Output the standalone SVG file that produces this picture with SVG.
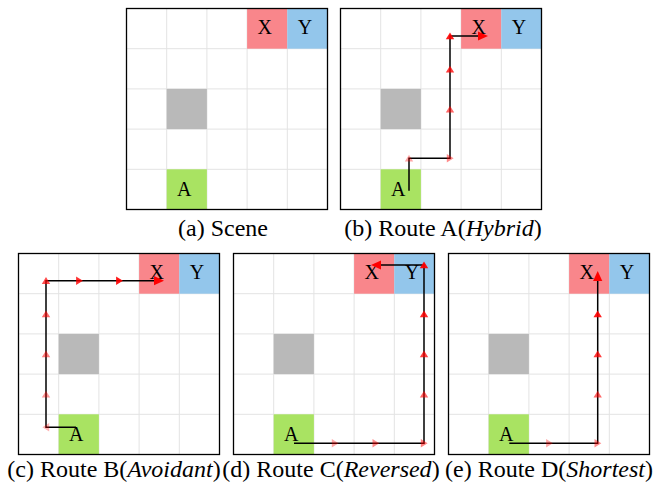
<svg xmlns="http://www.w3.org/2000/svg" width="660" height="484" viewBox="0 0 660 484">
<style>
.gl{stroke:#e3e3e3;stroke-width:1;fill:none}
.frame{fill:none;stroke:#000;stroke-width:1.3}
.cx{fill:#f9868b}.cy{fill:#93c6eb}.ca{fill:#a9e362}.co{fill:#b9b9b9}
.lbl{font-family:"Liberation Serif","Times New Roman",serif;font-size:20px;fill:#000;text-anchor:middle}
.cap{font-family:"Liberation Serif","Times New Roman",serif;font-size:24px;fill:#000;text-anchor:middle}
.route{fill:none;stroke:#000;stroke-width:1.5}
.tri{fill:#ff0000}
</style>
<defs>
<g id="grid">
<rect x="0" y="0" width="201" height="201" fill="#fff"/>
<path class="gl" d="M40.2,0V201M80.4,0V201M120.6,0V201M160.8,0V201M0,40.2H201M0,80.4H201M0,120.6H201M0,160.8H201"/>
</g>
<path id="tri" d="M0,-3.6L4.2,3.2L-4.2,3.2Z"/>
<path id="head" d="M0,0L-10,-4.6L-10,4.6Z"/>
<g id="cells">
<g id="cellX"><rect class="cx" x="120.6" y="0" width="40.2" height="40.2"/><text class="lbl" x="138.2" y="25.5">X</text></g>
<g id="cellY"><rect class="cy" x="160.8" y="0" width="40.2" height="40.2"/><text class="lbl" x="178.4" y="25.5">Y</text></g>
<g id="cellO"><rect class="co" x="40.2" y="80.4" width="40.2" height="40.2"/></g>
<g id="cellA"><rect class="ca" x="40.2" y="160.8" width="40.2" height="40.2"/><text class="lbl" x="57.8" y="187.5">A</text></g>
<rect class="frame" x="0" y="0" width="201" height="201"/>
</g>
</defs>

<g id="panel-a" transform="translate(126.5,8.5)">
<use href="#grid"/>
<use href="#cells"/>
</g>
<g id="panel-b" transform="translate(340.5,8.5)">
<use href="#grid"/>
<use href="#cells"/>
</g>
<g id="panel-c" transform="translate(18.5,253.5)">
<use href="#grid"/>
<use href="#cells"/>
</g>
<g id="panel-d" transform="translate(233.5,253.5)">
<use href="#grid"/>
<use href="#cells"/>
</g>
<g id="panel-e" transform="translate(448.5,253.5)">
<use href="#grid"/>
<use href="#cells"/>
</g>

<g id="connectors">
<g id="route-b">
<polyline class="route" points="409,190.7 409,158.3 450,158.3 450,36 484,36"/>
<use href="#tri" class="tri" fill-opacity="0.35" transform="translate(409,158.3)"/>
<use href="#tri" class="tri" fill-opacity="0.45" transform="translate(450,158.3) rotate(90)"/>
<use href="#tri" class="tri" fill-opacity="0.6" transform="translate(450,109.3)"/>
<use href="#tri" class="tri" fill-opacity="0.78" transform="translate(450,69.3)"/>
<use href="#tri" class="tri" fill-opacity="0.9" transform="translate(450,36)"/>
<use href="#head" class="tri" transform="translate(488,36)"/>
</g>
<g id="route-c">
<polyline class="route" points="76,427.3 46,427.3 46,280.7 160,280.7"/>
<use href="#tri" class="tri" fill-opacity="0.3" transform="translate(46,427.3) rotate(-90)"/>
<use href="#tri" class="tri" fill-opacity="0.4" transform="translate(46,394.3)"/>
<use href="#tri" class="tri" fill-opacity="0.5" transform="translate(46,354)"/>
<use href="#tri" class="tri" fill-opacity="0.6" transform="translate(46,314)"/>
<use href="#tri" class="tri" fill-opacity="0.7" transform="translate(46,280.7)"/>
<use href="#tri" class="tri" fill-opacity="0.82" transform="translate(79.3,280.7) rotate(90)"/>
<use href="#tri" class="tri" fill-opacity="0.92" transform="translate(119.3,280.7) rotate(90)"/>
<use href="#head" class="tri" transform="translate(164,280.7)"/>
</g>
<g id="route-d">
<polyline class="route" points="294,443.3 424,443.3 424,265 375,265"/>
<use href="#tri" class="tri" fill-opacity="0.35" transform="translate(335,443.3) rotate(90)"/>
<use href="#tri" class="tri" fill-opacity="0.45" transform="translate(375.7,443.3) rotate(90)"/>
<use href="#tri" class="tri" fill-opacity="0.5" transform="translate(424,443.3) rotate(90)"/>
<use href="#tri" class="tri" fill-opacity="0.6" transform="translate(424,394.3)"/>
<use href="#tri" class="tri" fill-opacity="0.75" transform="translate(424,354)"/>
<use href="#tri" class="tri" fill-opacity="0.85" transform="translate(424,314)"/>
<use href="#tri" class="tri" fill-opacity="0.95" transform="translate(424,265)"/>
<use href="#head" class="tri" transform="translate(371,265) rotate(180)"/>
</g>
<g id="route-e">
<polyline class="route" points="509.3,443.3 597.7,443.3 597.7,275"/>
<use href="#tri" class="tri" fill-opacity="0.35" transform="translate(549.3,443.3) rotate(90)"/>
<use href="#tri" class="tri" fill-opacity="0.45" transform="translate(597.7,443.3) rotate(90)"/>
<use href="#tri" class="tri" fill-opacity="0.6" transform="translate(597.7,394.3)"/>
<use href="#tri" class="tri" fill-opacity="0.78" transform="translate(597.7,354)"/>
<use href="#tri" class="tri" fill-opacity="0.9" transform="translate(597.7,314)"/>
<use href="#head" class="tri" transform="translate(597.7,271) rotate(-90)"/>
</g>
</g>

<g id="captions">
<text class="cap" x="223" y="236">(a) Scene</text>
<text class="cap" x="443" y="236">(b) Route A(<tspan font-style="italic">Hybrid</tspan>)</text>
<text class="cap" x="114" y="477">(c) Route B(<tspan font-style="italic">Avoidant</tspan>)</text>
<text class="cap" x="331" y="477">(d) Route C(<tspan font-style="italic">Reversed</tspan>)</text>
<text class="cap" x="549" y="477">(e) Route D(<tspan font-style="italic">Shortest</tspan>)</text>
</g>
</svg>
